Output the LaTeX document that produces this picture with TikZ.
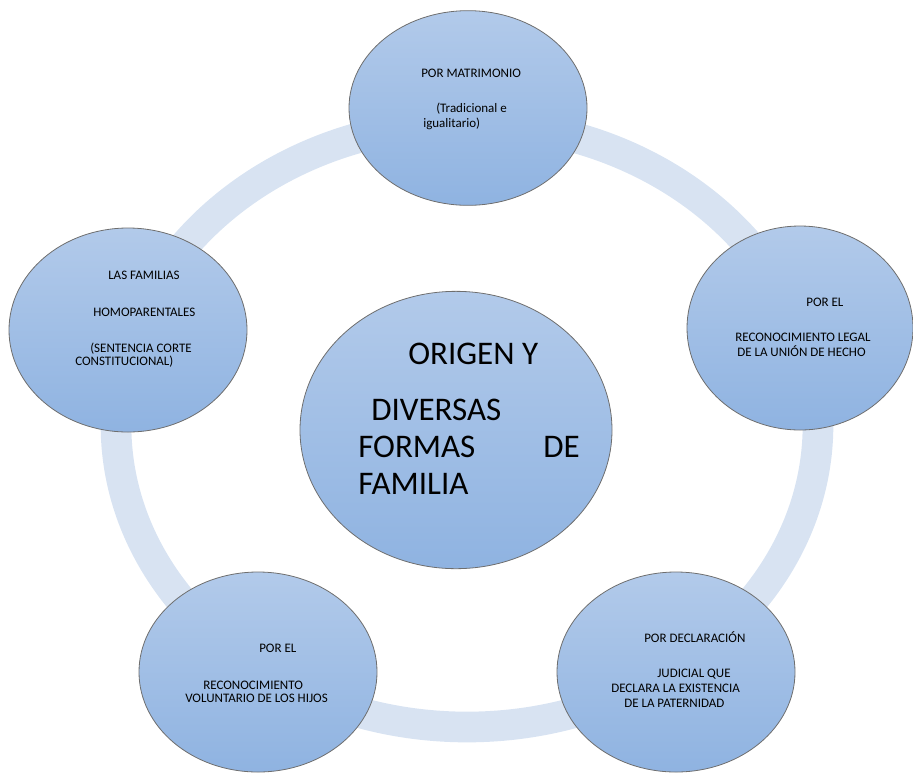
\documentclass[tikz,border=0pt]{standalone}
\usepackage{fontspec}
\setmainfont{Carlito}
\usetikzlibrary{shapes.geometric}
\definecolor{ringblue}{HTML}{D8E3F2}
\definecolor{topblue}{HTML}{B2CAEA}
\definecolor{botblue}{HTML}{8FB3E1}
\definecolor{rimgray}{HTML}{6E6E6E}
\begin{document}
\begin{tikzpicture}[x=0.75pt,y=-0.75pt,
  bubble/.style={ellipse,draw=rimgray,line width=0.6pt,top color=topblue,bottom color=botblue,minimum width=178.5pt,minimum height=150pt,inner sep=0pt},
  hub/.style={bubble,minimum width=234pt,minimum height=208pt},
  small/.style={anchor=base west,inner sep=0pt,font=\fontsize{9.75pt}{11.7pt}\selectfont},
  big/.style={anchor=base west,inner sep=0pt,font=\fontsize{24.75pt}{29.7pt}\selectfont}]
\useasboundingbox (0,0) rectangle (913,772);
\coordinate (ringc) at (467,425);
\draw[ringblue,line width=23pt] (ringc) ellipse [x radius=351,y radius=302];
\node[hub] (origen) at (456,430) {};
\node[bubble,minimum height=146pt] (matrimonio) at (468,108) {};
\node[bubble,minimum width=169.5pt,minimum height=153pt] (union) at (800,328) {};
\node[bubble,minimum height=153pt] (homo) at (128,330) {};
\node[bubble] (voluntario) at (258,672) {};
\node[bubble] (judicial) at (676,672) {};
\node[small] (m1) at (421,77) {POR MATRIMONIO};
\node[small] (m2) at (436,112.5) {(Tradicional e};
\node[small] (m3) at (423,127) {igualitario)};
\node[small] (u1) at (806,306) {POR EL};
\node[small] (u2) at (735,341.5) {RECONOCIMIENTO LEGAL};
\node[small] (u3) at (737,356) {DE LA UNIÓN DE HECHO};
\node[small] (h1) at (108,279) {LAS FAMILIAS};
\node[small] (h2) at (93,316) {HOMOPARENTALES};
\node[small] (h3) at (90,352) {(SENTENCIA CORTE};
\node[small] (h4) at (75,365) {CONSTITUCIONAL)};
\node[small] (v1) at (259,652) {POR EL};
\node[small] (v2) at (203,689) {RECONOCIMIENTO};
\node[small] (v3) at (185,702) {VOLUNTARIO DE LOS HIJOS};
\node[small] (j1) at (644,642) {POR DECLARACIÓN};
\node[small] (j2) at (657,677) {JUDICIAL QUE};
\node[small] (j3) at (611,692) {DECLARA LA EXISTENCIA};
\node[small] (j4) at (624,707) {DE LA PATERNIDAD};
\node[big] (o1) at (408,364) {ORIGEN Y};
\node[big] (o2) at (371,420) {DIVERSAS};
\node[big] (o3) at (358,457) {FORMAS};
\node[big] (o4) at (543,457) {DE};
\node[big] (o5) at (358,494) {FAMILIA};
\end{tikzpicture}
\end{document}
